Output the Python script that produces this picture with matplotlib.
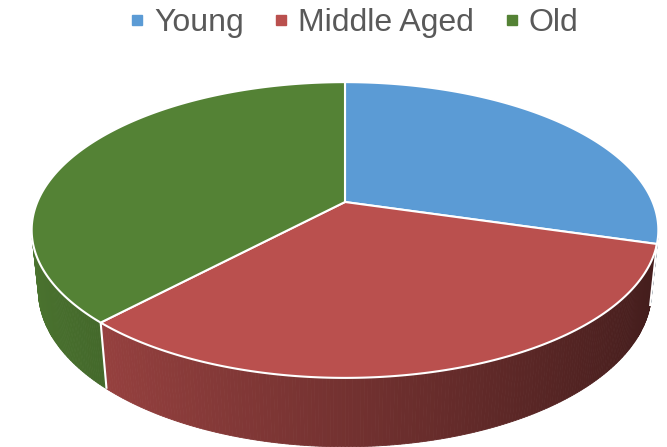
import numpy as np
import matplotlib
matplotlib.use('Agg')
import matplotlib.pyplot as plt
from matplotlib.patches import Polygon
from matplotlib.lines import Line2D

labels = ['Young', 'Middle Aged', 'Old']
values = [29.5, 32.5, 38]
colors = ['#5B9BD5', '#BA504E', '#548235']

# camera for the fake 3D look (perspective, seen from the front and above)
ELEV = np.radians(27.1)
DIST = 4.70
FOCAL = 1471.0
SX = 0.983
THICK = 0.219


def project(X, Y, Z):
    s, c = np.sin(ELEV), np.cos(ELEV)
    d = DIST + Y * c - Z * s
    return SX * FOCAL * X / d, FOCAL * (Y * s + Z * c) / d


def rim(phi, z):
    # phi measured clockwise from 12 o'clock
    return project(np.sin(phi), np.cos(phi), z)


def shade(color, f):
    rgb = np.array(matplotlib.colors.to_rgb(color))
    return tuple(np.clip(rgb * f, 0, 1))


fig = plt.figure(figsize=(6.67, 4.47), dpi=100)
ax = fig.add_axes([0, 0, 1, 1])
ax.set_xlim(-345, 667 - 345)
ax.set_ylim(202 - 447, 202)
ax.axis('off')

fracs = np.array(values, dtype=float) / sum(values)
edges = np.concatenate([[0], np.cumsum(fracs)]) * 2 * np.pi
visLimit = -1.0 / (DIST * np.cos(ELEV))

# outer walls first
for i, col in enumerate(colors):
    a, b = edges[i], edges[i + 1]
    phis = np.linspace(a, b, max(int((b - a) / 0.01), 2))
    for p0, p1 in zip(phis[:-1], phis[1:]):
        pm = 0.5 * (p0 + p1)
        if np.cos(pm) >= visLimit:
            continue
        u0, v0 = rim(p0, 0)
        u1, v1 = rim(p1, 0)
        u2, v2 = rim(p1, -THICK)
        u3, v3 = rim(p0, -THICK)
        fc = shade(col, 0.62 - 0.27 * np.sin(pm))
        ax.add_patch(Polygon([(u0, v0), (u1, v1), (u2, v2), (u3, v3)],
                             closed=True, facecolor=fc, edgecolor=fc, lw=0.6))

# white seams on the wall between slices
for e in edges[1:-1]:
    if np.cos(e) < visLimit:
        ut, vt = rim(e, 0)
        ub, vb = rim(e, -THICK)
        ax.plot([ut, ub], [vt, vb], color='white', lw=1.5, solid_capstyle='butt')

# top faces
cu, cv = project(0, 0, 0)
for i, col in enumerate(colors):
    a, b = edges[i], edges[i + 1]
    phis = np.linspace(a, b, 200)
    us, vs = rim(phis, 0)
    pts = [(cu, cv)] + list(zip(us, vs))
    ax.add_patch(Polygon(pts, closed=True, facecolor=col, edgecolor='white',
                         lw=1.5, joinstyle='round'))

handles = [Line2D([], [], marker='s', ls='', color=c, markersize=7) for c in colors]
fig.legend(handles, labels, loc='upper center', bbox_to_anchor=(0.531, 1.047), ncol=3,
           frameon=False, prop={'family': 'Liberation Sans', 'size': 23},
           labelcolor='#595959', handlelength=0.45, handletextpad=0.3,
           columnspacing=0.95)

fig.savefig('out.png', dpi=100)
